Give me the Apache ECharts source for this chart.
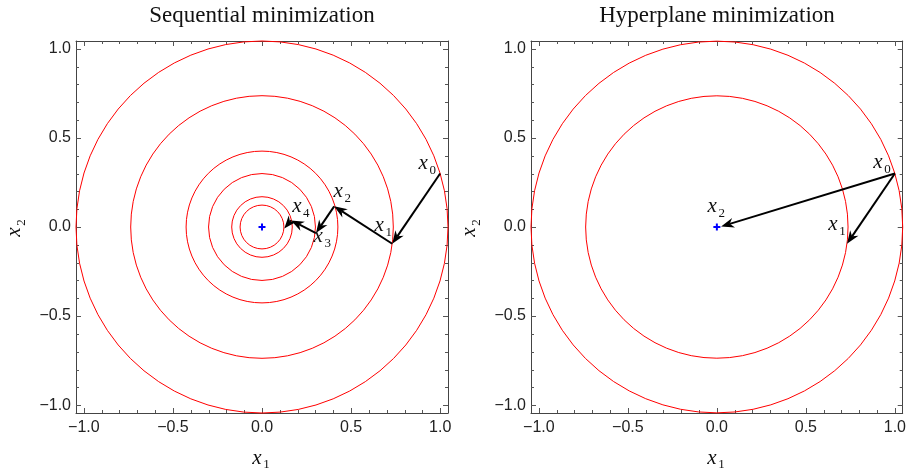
<!DOCTYPE html>
<html><head><meta charset="utf-8">
<script src="https://cdn.jsdelivr.net/npm/echarts@6/dist/echarts.min.js"></script>
<style>html,body{margin:0;padding:0;background:#fff}#c{width:909px;height:470px}</style>
</head><body><div id="c"></div>
<script>
// ---------------- data ----------------
const panelTitles = ['Sequential minimization', 'Hyperplane minimization'];
const axisExtent = 1.044;
const majorTicks = [-1, -0.5, 0, 0.5, 1];
const tickLabels = ['\u22121.0', '\u22120.5', '0.0', '0.5', '1.0'];
const minorTicks = [-0.9, -0.8, -0.7, -0.6, -0.4, -0.3, -0.2, -0.1, 0.1, 0.2, 0.3, 0.4, 0.6, 0.7, 0.8, 0.9];

// Sequential minimization iterates x0..x5 and level-circle radii
const seqPoints = [[1.0, 0.300], [0.731, -0.094], [0.405, 0.116], [0.303, -0.034], [0.163, 0.037], [0.125, -0.009]];
const seqRadii = [1.044, 0.737, 0.426, 0.300, 0.170, 0.123];
const seqSubs = ['0', '1', '2', '3', '4'];

// Hyperplane minimization iterates
const hypPoints = [[1.0, 0.300], [0.731, -0.094], [0.024, 0.003]];
const hypArrowPairs = [[0, 1], [0, 2]];
const hypRadii = [1.044, 0.737];
const hypSubs = ['0', '1', '2'];

const minimum = [0, 0];

// ---------------- layout / style ----------------
const grids = [
  {left: 76, top: 41, width: 372, height: 372},
  {left: 531, top: 41, width: 372, height: 372}
];
const seqLabelOffsets = [[-17, -8], [-13, -16.5], [4, -12.7], [2.3, 5.6], [5.8, -11.7]];
const hypLabelOffsets = [[-17, -9], [-14, -17], [-9, -17.5]];
const SERIF = '"Liberation Serif", "Times New Roman", serif';
const SANS = '"Liberation Sans", Arial, sans-serif';
const FRAME = '#444', TICK = '#555';
const MAJOR_LEN = 5, MINOR_LEN = 3;

function fmt(v) {
  for (let i = 0; i < majorTicks.length; i++) if (Math.abs(majorTicks[i] - v) < 1e-9) return tickLabels[i];
  return '';
}

function axesFor(g, dim) {
  const base = {gridIndex: g, type: 'value', min: -axisExtent, max: axisExtent, splitLine: {show: false}};
  const posA = dim === 'x' ? 'bottom' : 'left';
  const posB = dim === 'x' ? 'top' : 'right';
  const lineOn = {show: true, onZero: false, lineStyle: {color: FRAME, width: 1}};
  const lbl = {show: true, customValues: majorTicks, formatter: fmt, color: '#222', fontSize: 16,
    fontFamily: SANS, margin: dim === 'x' ? 7 : 5};
  return [
    Object.assign({}, base, {position: posA, axisLine: lineOn, axisTick: {show: false}, axisLabel: lbl}),
    Object.assign({}, base, {position: posB, axisLine: lineOn, axisTick: {show: false}, axisLabel: {show: false}})
  ];
}

function mathText(cx, cy, sub, extra) {
  return Object.assign({
    type: 'group',
    children: [
      {type: 'text', x: cx, y: cy - 2, style: {text: 'x', font: 'italic 21px ' + SERIF, fill: '#111',
        align: 'center', verticalAlign: 'middle', textAlign: 'center', textVerticalAlign: 'middle'}},
      {type: 'text', x: cx + 9.5, y: cy + 5, style: {text: sub, font: '13px ' + SERIF, fill: '#111',
        align: 'center', verticalAlign: 'middle', textAlign: 'center', textVerticalAlign: 'middle'}}
    ]
  }, extra || {});
}

function renderCircle(params, api) {
  const c = api.coord([api.value(0), api.value(1)]);
  const r = api.size([api.value(2), 0])[0];
  return {type: 'circle', shape: {cx: c[0], cy: c[1], r: r},
    style: {fill: 'none', stroke: '#ff0000', lineWidth: 1}};
}

function renderArrow(params, api) {
  const p0 = api.coord([api.value(0), api.value(1)]);
  const p1 = api.coord([api.value(2), api.value(3)]);
  const dx = p1[0] - p0[0], dy = p1[1] - p0[1];
  const len = Math.hypot(dx, dy);
  const ux = dx / len, uy = dy / len, nx = -uy, ny = ux;
  const L = 13, W = 5, N = 9;
  const bx = p1[0] - ux * L, by = p1[1] - uy * L;
  const notch = [p1[0] - ux * N, p1[1] - uy * N];
  return {type: 'group', children: [
    {type: 'line', shape: {x1: p0[0], y1: p0[1], x2: notch[0], y2: notch[1]},
      style: {stroke: '#000', lineWidth: 2}},
    {type: 'polygon', shape: {points: [[p1[0], p1[1]], [bx + nx * W, by + ny * W], notch, [bx - nx * W, by - ny * W]]},
      style: {fill: '#000', stroke: 'none'}}
  ]};
}

function makeLabelRenderer(subs, offsets) {
  return function (params, api) {
    const p = api.coord([api.value(0), api.value(1)]);
    const o = offsets[params.dataIndex];
    return mathText(p[0] + o[0], p[1] + o[1], subs[params.dataIndex]);
  };
}

function renderPlus(params, api) {
  const p = api.coord([api.value(0), api.value(1)]);
  const h = 3.5;
  return {type: 'group', children: [
    {type: 'line', shape: {x1: p[0] - h, y1: p[1], x2: p[0] + h, y2: p[1]}, style: {stroke: '#0000ff', lineWidth: 2}},
    {type: 'line', shape: {x1: p[0], y1: p[1] - h, x2: p[0], y2: p[1] + h}, style: {stroke: '#0000ff', lineWidth: 2}}
  ]};
}

// frame ticks on all four sides, positioned through the axes' scales
function renderTicks(params, api) {
  const cs = params.coordSys;
  const v = api.value(0);
  const len = api.value(1) ? MAJOR_LEN : MINOR_LEN;
  const px = Math.round(api.coord([v, 0])[0]) + 0.5;
  const py = Math.round(api.coord([0, v])[1]) + 0.5;
  const x0 = cs.x, x1 = cs.x + cs.width, y0 = cs.y, y1 = cs.y + cs.height;
  const st = {stroke: TICK, lineWidth: 1};
  return {type: 'group', children: [
    {type: 'line', shape: {x1: px, y1: y1, x2: px, y2: y1 - len}, style: st},
    {type: 'line', shape: {x1: px, y1: y0, x2: px, y2: y0 + len}, style: st},
    {type: 'line', shape: {x1: x0, y1: py, x2: x0 + len, y2: py}, style: st},
    {type: 'line', shape: {x1: x1, y1: py, x2: x1 - len, y2: py}, style: st}
  ]};
}

const seqArrows = [];
for (let i = 0; i < seqPoints.length - 1; i++) seqArrows.push(seqPoints[i].concat(seqPoints[i + 1]));
const hypArrows = hypArrowPairs.map(pr => hypPoints[pr[0]].concat(hypPoints[pr[1]]));
const tickData = majorTicks.map(v => [v, 1]).concat(minorTicks.map(v => [v, 0]));

function seriesFor(g, radii, arrows, points, subs, offsets) {
  const ax = {xAxisIndex: g * 2, yAxisIndex: g * 2};
  return [
    Object.assign({type: 'custom', renderItem: renderTicks, data: tickData, encode: {x: 0}, silent: true, z: 1}, ax),
    Object.assign({type: 'custom', renderItem: renderCircle, data: radii.map(r => [minimum[0], minimum[1], r]),
      encode: {x: 0, y: 1}, silent: true, z: 2}, ax),
    Object.assign({type: 'custom', renderItem: renderPlus, data: [minimum], encode: {x: 0, y: 1}, silent: true, z: 3}, ax),
    Object.assign({type: 'custom', renderItem: renderArrow, data: arrows, encode: {x: [0, 2], y: [1, 3]}, silent: true, z: 4}, ax),
    Object.assign({type: 'custom', renderItem: makeLabelRenderer(subs, offsets),
      data: points.slice(0, subs.length), encode: {x: 0, y: 1}, silent: true, z: 5}, ax)
  ];
}

const graphics = [];
grids.forEach((gr, i) => {
  const cx = gr.left + gr.width / 2;
  graphics.push({type: 'text', x: cx, y: 16, style: {text: panelTitles[i], font: '23px ' + SERIF, fill: '#111',
    align: 'center', verticalAlign: 'middle', textAlign: 'center', textVerticalAlign: 'middle'}});
  graphics.push(mathText(cx - 5, 460, '1'));
  graphics.push(mathText(-5, 0, '2', {x: gr.left - 59.5, y: gr.top + gr.height / 2, rotation: Math.PI / 2}));
});

const chart = echarts.init(document.getElementById('c'), null, {renderer: 'canvas'});
chart.setOption({
  animation: false,
  backgroundColor: '#fff',
  grid: grids,
  xAxis: axesFor(0, 'x').concat(axesFor(1, 'x')),
  yAxis: axesFor(0, 'y').concat(axesFor(1, 'y')),
  series: seriesFor(0, seqRadii, seqArrows, seqPoints, seqSubs, seqLabelOffsets)
    .concat(seriesFor(1, hypRadii, hypArrows, hypPoints, hypSubs, hypLabelOffsets)),
  graphic: graphics
});
</script>
</body></html>
